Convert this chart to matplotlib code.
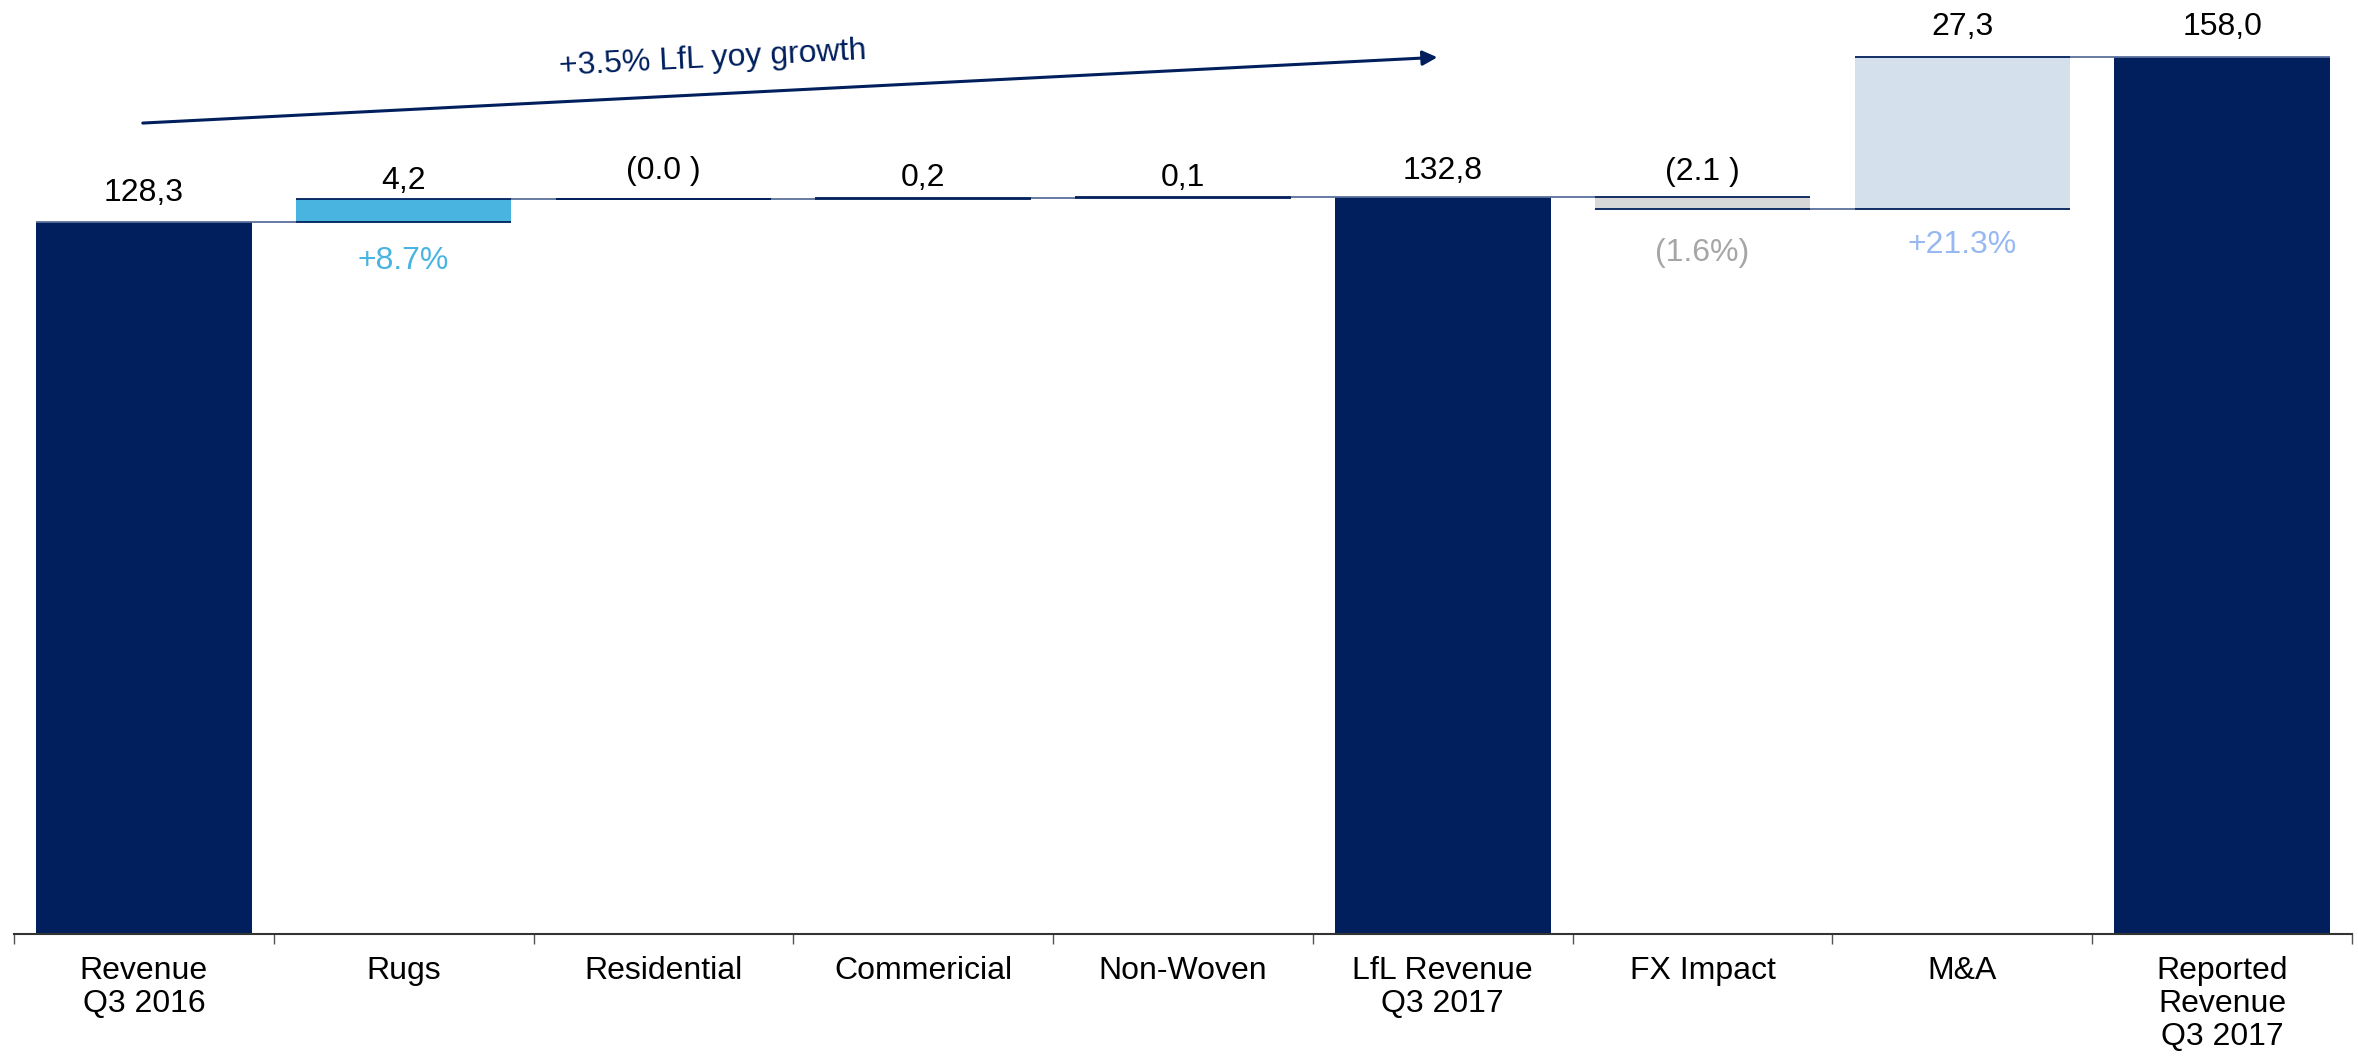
import numpy as np
import matplotlib.pyplot as plt

plt.rcParams['font.family'] = ['Liberation Sans', 'DejaVu Sans']
fs = 23

# data
categories = ['Revenue\nQ3 2016', 'Rugs', 'Residential', 'Commericial', 'Non-Woven',
              'LfL Revenue\nQ3 2017', 'FX Impact', 'M&A', 'Reported\nRevenue\nQ3 2017']
values = [128.3, 4.2, 0.0, 0.2, 0.1, 132.8, -2.1, 27.3, 158.0]
is_total = [True, False, False, False, False, True, False, False, True]
value_labels = ['128,3', '4,2', '(0.0 )', '0,2', '0,1', '132,8', '(2.1 )', '27,3', '158,0']
pct_labels = {1: '+8.7%', 6: '(1.6%)', 7: '+21.3%'}
growth_text = '+3.5% LfL yoy growth'

navy = '#001f5c'
bar_colors = [navy, '#49b4e0', '#d9d9d9', '#d9d9d9', '#d9d9d9', navy, '#d8d8d8', '#d4e0ec', navy]
pct_colors = {1: '#49b4e0', 6: '#a6a6a6', 7: '#98b8f2'}
conn_color = '#5b6f9c'
# label gaps, in points
label_gap = [10, 2, 9, 3, 3, 8, 7, 11, 11]
pct_gap = {1: -17, 6: -21, 7: -15}

# running levels
bottoms, tops = [], []
level = 0.0
for v, tot in zip(values, is_total):
    if tot:
        bottoms.append(0.0)
        tops.append(v)
        level = v
    else:
        bottoms.append(level)
        level = level + v
        tops.append(level)

fig = plt.figure(figsize=(23.58, 10.62), dpi=100)
ax = fig.add_axes([14 / 2358, 0.1205, 2338 / 2358, 0.8795])

x = np.arange(len(categories))
w = 0.83
lo = [min(b, t) for b, t in zip(bottoms, tops)]
hi = [max(b, t) for b, t in zip(bottoms, tops)]
heights = [h - l for h, l in zip(hi, lo)]
ax.bar(x, heights, bottom=lo, width=w, color=bar_colors, edgecolor='none', zorder=2)

# edge lines on floating bars and connectors
for i in range(len(x)):
    if not is_total[i]:
        ax.hlines([lo[i], hi[i]], x[i] - w / 2, x[i] + w / 2, color=navy, lw=1.3, zorder=3)
    else:
        ax.hlines(tops[i], x[i] - w / 2, x[i] + w / 2, color=conn_color, lw=1.3, zorder=3)
    if i < len(x) - 1:
        ax.hlines(tops[i], x[i] + w / 2, x[i + 1] - w / 2, color=conn_color, lw=1.3, zorder=3)

# value labels
for i in range(len(x)):
    ax.annotate(value_labels[i], (x[i], hi[i]), xytext=(0, label_gap[i]), textcoords='offset points',
                ha='center', va='bottom', fontsize=fs, color='black')

for i, lab in pct_labels.items():
    ax.annotate(lab, (x[i], lo[i]), xytext=(0, pct_gap[i]), textcoords='offset points',
                ha='center', va='top', fontsize=fs, color=pct_colors[i])

# growth arrow
ax.annotate('', xy=(4.99, 158.0), xytext=(-0.015, 146.1),
            arrowprops=dict(arrowstyle='-|>', color=navy, lw=2.2, mutation_scale=22))
ax.text(2.19, 157.6, growth_text, ha='center', va='center', fontsize=fs, color=navy, rotation=3)

ax.set_xlim(-0.5, len(x) - 0.5)
ax.set_ylim(0, 168.3)
ax.set_xticks(x)
ax.set_xticklabels(categories, fontsize=fs, linespacing=1.12)
ax.set_xticks(np.arange(len(x) + 1) - 0.5, minor=True)
ax.tick_params(axis='x', which='major', length=0, pad=16)
ax.tick_params(axis='x', which='minor', length=7, width=1, color='#555555', direction='out')
ax.set_yticks([])
for s in ['left', 'right', 'top']:
    ax.spines[s].set_visible(False)
ax.spines['bottom'].set_color('#333333')
ax.spines['bottom'].set_linewidth(1.5)

fig.savefig('out.png', dpi=100)
